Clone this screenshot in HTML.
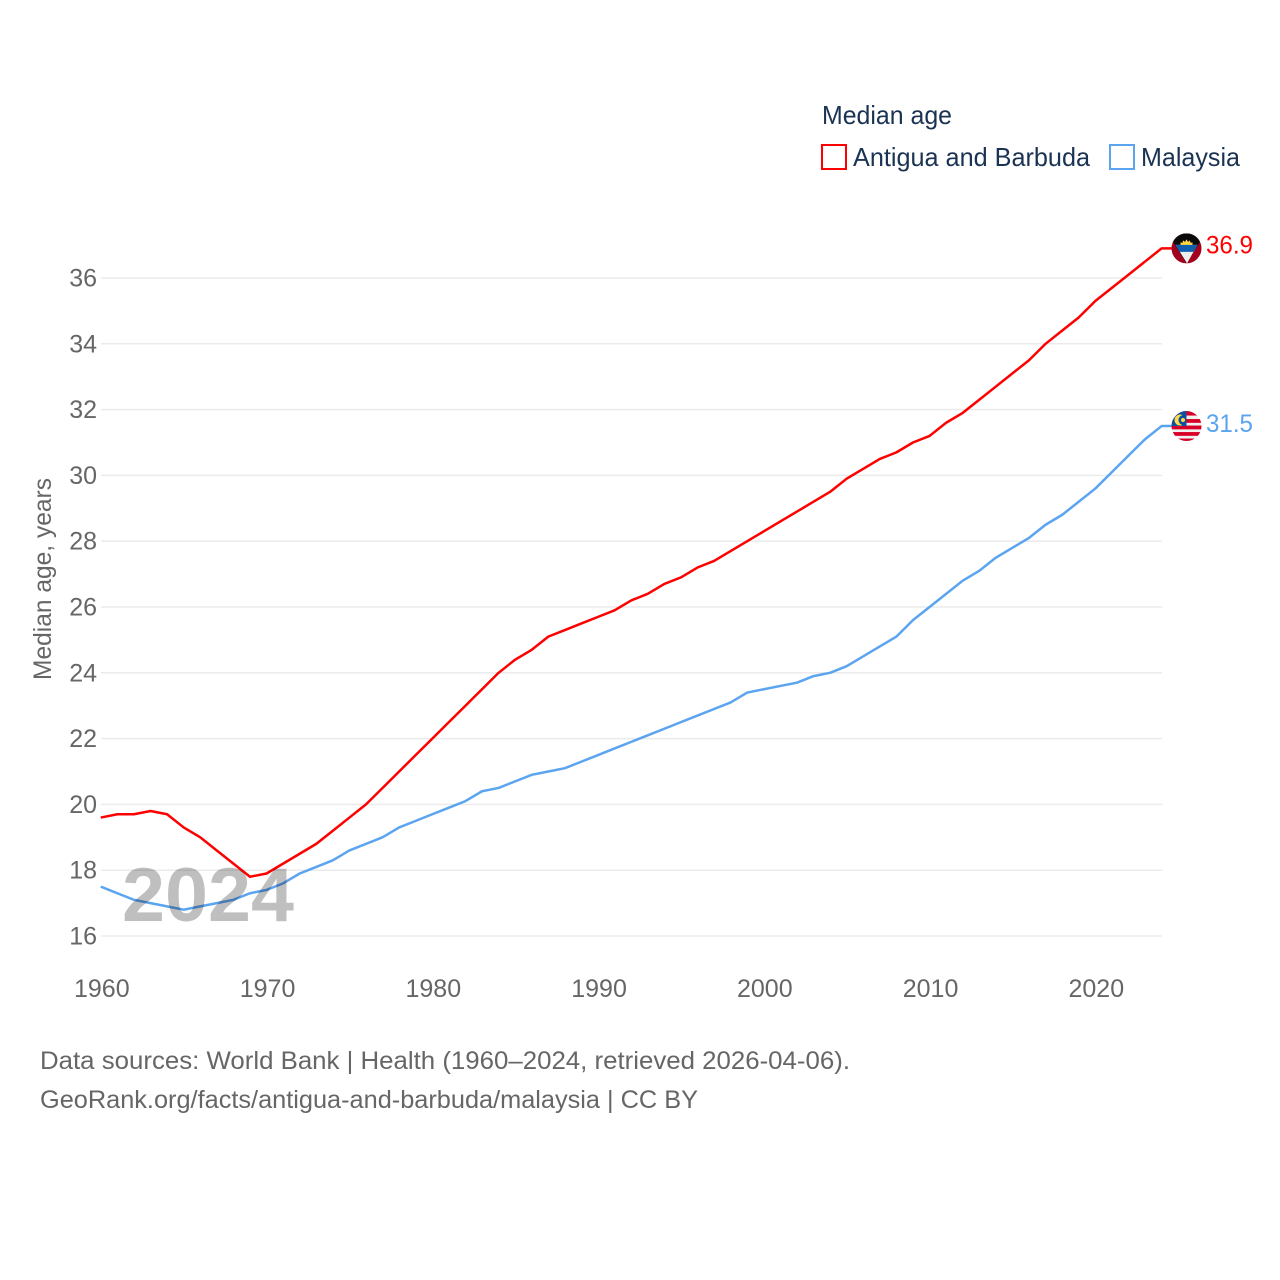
<!DOCTYPE html>
<html lang="en">
<head>
<meta charset="utf-8">
<title>Median age: Antigua and Barbuda vs Malaysia</title>
<style>
html,body{margin:0;padding:0;background:#fff;}
svg{display:block;font-family:"Liberation Sans",sans-serif;}
</style>
</head>
<body>
<svg id="chart" xmlns="http://www.w3.org/2000/svg" width="1280" height="1280" viewBox="0 0 1280 1280">
  <rect x="0" y="0" width="1280" height="1280" fill="#ffffff"/>
  <defs>
    <clipPath id="flag-clip-ag"><circle cx="0" cy="0" r="15"/></clipPath>
    <clipPath id="flag-clip-my"><circle cx="0" cy="0" r="15"/></clipPath>
  </defs>

  <g id="legend">
    <text x="822" y="124" font-size="26" fill="#1a3353" textLength="130" lengthAdjust="spacingAndGlyphs">Median age</text>
    <g>
      <rect x="822" y="145" width="24" height="24" fill="#ffffff" stroke="#ff0000" stroke-width="2"/>
      <text x="853" y="166" font-size="26" fill="#1a3353" textLength="237" lengthAdjust="spacingAndGlyphs">Antigua and Barbuda</text>
    </g>
    <g>
      <rect x="1110" y="145" width="24" height="24" fill="#ffffff" stroke="#5ba4f0" stroke-width="2"/>
      <text x="1141" y="166" font-size="26" fill="#1a3353" textLength="99" lengthAdjust="spacingAndGlyphs">Malaysia</text>
    </g>
  </g>

  <g id="grid"></g>
  <g id="y-ticks"></g>
  <g id="x-ticks"></g>
  <text transform="translate(51,680) rotate(-90)" font-size="25" fill="#666666" textLength="202" lengthAdjust="spacingAndGlyphs">Median age, years</text>
  <g id="series"></g>
  <text x="122" y="921" font-size="76" font-weight="700" fill="#000000" fill-opacity="0.25" textLength="172" lengthAdjust="spacingAndGlyphs">2024</text>

  <g id="flag-ag" clip-path="url(#flag-clip-ag)">
    <rect x="-15" y="-15" width="30" height="30" fill="#a2001d"/>
    <polygon points="-15,-15 15,-15 15,-9 0,15 -15,-9" fill="#0a0a0a"/>
    <polygon points="-11,-3.5 11,-3.5 0.5,15" fill="#eeeeee"/>
    <polygon points="-11,-3.5 11,-3.5 7,3.5 -7,3.5" fill="#0f5fb0"/>
    <path d="M-6,-3.5 L-6,-6 L-4,-5.5 L-3.5,-8 L-1.5,-6.5 L0,-9 L1.5,-6.5 L3.5,-8 L4,-5.5 L6,-6 L6,-3.5 Z" fill="#ffda44"/>
  </g>

  <g id="flag-my" clip-path="url(#flag-clip-my)">
    <rect x="-15" y="-15" width="30" height="30" fill="#f0f0f0"/>
    <rect x="-15" y="-15" width="30" height="4.5" fill="#d80027"/>
    <rect x="-15" y="-7" width="30" height="3.8" fill="#d80027"/>
    <rect x="-15" y="-0.5" width="30" height="3.8" fill="#d80027"/>
    <rect x="-15" y="6" width="30" height="3.8" fill="#d80027"/>
    <rect x="-15" y="12.5" width="30" height="3" fill="#d80027"/>
    <rect x="-15" y="-15" width="15" height="15" fill="#0f4fa0"/>
    <path d="M-4,-10.9 A5.5,5.5 0 1 0 -4,-1.1 A5,5 0 0 1 -4,-10.9 Z" fill="#ffda44"/>
    <circle cx="-3.5" cy="-6" r="2" fill="#ffda44"/>
  </g>

  <text id="label-ag" x="1206" font-size="25" fill="#ff0000" textLength="47" lengthAdjust="spacingAndGlyphs"></text>
  <text id="label-my" x="1206" font-size="25" fill="#5ba4f0" textLength="47" lengthAdjust="spacingAndGlyphs"></text>

  <g id="footer">
    <text x="40" y="1069" font-size="25" fill="#666666" textLength="810" lengthAdjust="spacingAndGlyphs">Data sources: World Bank | Health (1960–2024, retrieved 2026-04-06).</text>
    <text x="40" y="1108" font-size="25" fill="#666666" textLength="658" lengthAdjust="spacingAndGlyphs">GeoRank.org/facts/antigua-and-barbuda/malaysia | CC BY</text>
  </g>
</svg>

<script>
const startYear = 1960;
const yTickValues = [16, 18, 20, 22, 24, 26, 28, 30, 32, 34, 36];
const xTickValues = [1960, 1970, 1980, 1990, 2000, 2010, 2020];
const antiguaValues = [19.6,19.7,19.7,19.8,19.7,19.3,19.0,18.6,18.2,17.8,17.9,18.2,18.5,18.8,19.2,19.6,20.0,20.5,21.0,21.5,22.0,22.5,23.0,23.5,24.0,24.4,24.7,25.1,25.3,25.5,25.7,25.9,26.2,26.4,26.7,26.9,27.2,27.4,27.7,28.0,28.3,28.6,28.9,29.2,29.5,29.9,30.2,30.5,30.7,31.0,31.2,31.6,31.9,32.3,32.7,33.1,33.5,34.0,34.4,34.8,35.3,35.7,36.1,36.5,36.9];
const malaysiaValues = [17.5,17.3,17.1,17.0,16.9,16.8,16.9,17.0,17.1,17.3,17.4,17.6,17.9,18.1,18.3,18.6,18.8,19.0,19.3,19.5,19.7,19.9,20.1,20.4,20.5,20.7,20.9,21.0,21.1,21.3,21.5,21.7,21.9,22.1,22.3,22.5,22.7,22.9,23.1,23.4,23.5,23.6,23.7,23.9,24.0,24.2,24.5,24.8,25.1,25.6,26.0,26.4,26.8,27.1,27.5,27.8,28.1,28.5,28.8,29.2,29.6,30.1,30.6,31.1,31.5];

const SVG_NS = 'http://www.w3.org/2000/svg';
function xScale(year) { return 100.8 + (year - 1960) * 16.575; }
function yScale(value) { return 936 - (value - 16) * 32.9; }

const gridGroup = document.getElementById('grid');
const yTickGroup = document.getElementById('y-ticks');
const xTickGroup = document.getElementById('x-ticks');
const seriesGroup = document.getElementById('series');

yTickValues.forEach(function (v) {
  const line = document.createElementNS(SVG_NS, 'line');
  
  
  line.setAttribute('x1', 101);
  line.setAttribute('x2', 1162);
  line.setAttribute('y1', yScale(v));
  line.setAttribute('y2', yScale(v));
  line.setAttribute('stroke', '#ebebeb');
  line.setAttribute('stroke-width', '1.5');
  gridGroup.appendChild(line);

  const label = document.createElementNS(SVG_NS, 'text');
  
  
  label.setAttribute('x', 97);
  label.setAttribute('y', yScale(v) + 8.5);
  label.setAttribute('text-anchor', 'end');
  label.setAttribute('font-size', '25');
  label.setAttribute('fill', '#666666');
  label.textContent = String(v);
  yTickGroup.appendChild(label);
});

xTickValues.forEach(function (year) {
  const label = document.createElementNS(SVG_NS, 'text');
  
  
  label.setAttribute('x', xScale(year) + 1);
  label.setAttribute('y', 997);
  label.setAttribute('text-anchor', 'middle');
  label.setAttribute('font-size', '25');
  label.setAttribute('fill', '#666666');
  label.textContent = String(year);
  xTickGroup.appendChild(label);
});

function seriesPoints(values) {
  const pts = values.map(function (v, i) {
    return xScale(startYear + i).toFixed(2) + ',' + yScale(v).toFixed(2);
  });
  const last = values[values.length - 1];
  pts.push('1172,' + yScale(last).toFixed(2));
  return pts.join(' ');
}

const antiguaLine = document.createElementNS(SVG_NS, 'polyline');


antiguaLine.setAttribute('points', seriesPoints(antiguaValues));
antiguaLine.setAttribute('fill', 'none');
antiguaLine.setAttribute('stroke', '#ff0000');
antiguaLine.setAttribute('stroke-width', '2.5');
antiguaLine.setAttribute('stroke-linejoin', 'round');
seriesGroup.appendChild(antiguaLine);

const malaysiaLine = document.createElementNS(SVG_NS, 'polyline');


malaysiaLine.setAttribute('points', seriesPoints(malaysiaValues));
malaysiaLine.setAttribute('fill', 'none');
malaysiaLine.setAttribute('stroke', '#5ba4f0');
malaysiaLine.setAttribute('stroke-width', '2.5');
malaysiaLine.setAttribute('stroke-linejoin', 'round');
seriesGroup.appendChild(malaysiaLine);

const antiguaLast = antiguaValues[antiguaValues.length - 1];
const malaysiaLast = malaysiaValues[malaysiaValues.length - 1];
document.getElementById('flag-ag').setAttribute('transform', 'translate(1186.5,' + yScale(antiguaLast).toFixed(2) + ')');
document.getElementById('flag-my').setAttribute('transform', 'translate(1186.5,' + yScale(malaysiaLast).toFixed(2) + ')');
const labelAg = document.getElementById('label-ag');
labelAg.setAttribute('y', (yScale(antiguaLast) + 5).toFixed(2));
labelAg.textContent = antiguaLast.toFixed(1);
const labelMy = document.getElementById('label-my');
labelMy.setAttribute('y', (yScale(malaysiaLast) + 6).toFixed(2));
labelMy.textContent = malaysiaLast.toFixed(1);
</script>
</body>
</html>
